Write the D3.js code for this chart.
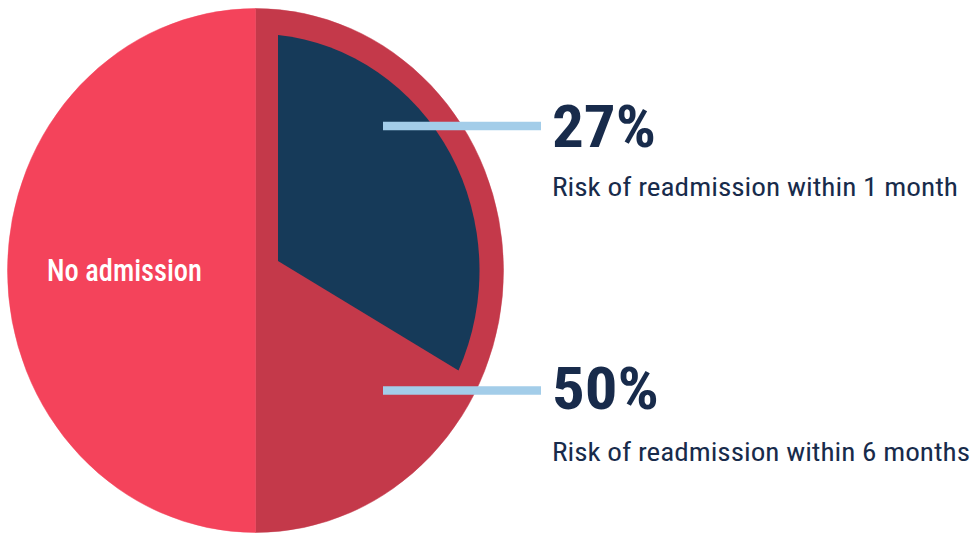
<!DOCTYPE html>
<html>
<head>
<meta charset="utf-8">
<script src="https://cdn.jsdelivr.net/npm/d3@7"></script>
<style>
  html, body { margin: 0; padding: 0; background: #ffffff; }
  svg { display: block; }
  text { font-family: "Roboto Condensed", "Roboto", "Liberation Sans Narrow", sans-serif; }
</style>
</head>
<body>
<svg id="chart" width="975" height="537"></svg>
<script>
// ---- data ----
const sliceNames  = ["Readmission within 6 months", "No admission"];
const sliceValues = [50, 50];                 // outer pie, percent of whole
const innerSliceName  = "Readmission within 1 month";
const innerSliceValue = 33.3;                 // angular share of the dark wedge (percent of whole, estimated)
const calloutValues = ["27%", "50%"];
const calloutTexts  = ["Risk of readmission within 1 month", "Risk of readmission within 6 months"];

// ---- layout ----
const svg = d3.select("#chart");
const cx = 255.5, cy = 270.5, R = 248, ryScale = 262 / 248;
const innerR = 224, pad1 = 22.5, pad2 = 19;
const colors = { "Readmission within 6 months": "#C4394A", "No admission": "#F4435B" };
const navy = "#163A59", textNavy = "#182B4B", connector = "#A3CDE9";

const g = svg.append("g").attr("transform", `translate(${cx},${cy}) scale(1,${ryScale})`);

const pie = d3.pie().sort(null).value(d => d.value);
const pieData = pie(sliceNames.map((n, i) => ({ name: n, value: sliceValues[i] })));
const arc = d3.arc().innerRadius(0).outerRadius(R);

g.selectAll("path.slice").data(pieData).join("path")
  .attr("class", "slice")
  .attr("d", arc)
  .attr("fill", d => colors[d.data.name])
  .attr("stroke", d => colors[d.data.name])
  .attr("stroke-width", 0.5);

// inner dark wedge: edges offset parallel, outer arc concentric with the pie
const angleScale = d3.scaleLinear().domain([0, 100]).range([0, 2 * Math.PI]);
const a0 = angleScale(0), a1 = angleScale(innerSliceValue);
function wedgePath(a0, a1, r, d1, d2) {
  const n0 = [Math.cos(a0), Math.sin(a0)];
  const n1 = [-Math.cos(a1), -Math.sin(a1)];
  const det = n0[0] * n1[1] - n0[1] * n1[0];
  const px = (d1 * n1[1] - n0[1] * d2) / det;
  const py = (n0[0] * d2 - d1 * n1[0]) / det;
  const s0 = a0 + Math.asin(d1 / r), s1 = a1 - Math.asin(d2 / r);
  const p = d3.path();
  p.moveTo(px, py);
  p.lineTo(r * Math.sin(s0), -r * Math.cos(s0));
  p.arc(0, 0, r, s0 - Math.PI / 2, s1 - Math.PI / 2, false);
  p.closePath();
  return p.toString();
}
g.append("path").attr("d", wedgePath(a0, a1, innerR, pad1, pad2)).attr("fill", navy);

// slice label
const labelArc = d3.arc().innerRadius(262).outerRadius(262);
const noAdm = pieData.find(d => d.data.name === "No admission");
const c = labelArc.centroid(noAdm);
svg.append("text")
  .attr("x", cx + c[0] / 2).attr("y", cy + 10)
  .attr("text-anchor", "middle")
  .attr("fill", "#ffffff").attr("font-size", 31).attr("font-weight", 500)
  .attr("textLength", 155).attr("lengthAdjust", "spacingAndGlyphs")
  .text("No admission");

// callouts
const callY = [126, 390.5];
const bigBase = [147, 408.5];
const subBase = [196, 461];
const bigW = [104, 107];
const subW = [406, 418];
calloutValues.forEach((v, i) => {
  svg.append("line")
    .attr("x1", 383).attr("x2", 541).attr("y1", callY[i]).attr("y2", callY[i])
    .attr("stroke", connector).attr("stroke-width", 8.5);
  svg.append("text")
    .attr("x", 552).attr("y", bigBase[i])
    .attr("fill", textNavy).attr("font-size", 60).attr("font-weight", 700)
    .attr("textLength", bigW[i]).attr("lengthAdjust", "spacingAndGlyphs")
    .text(v);
  svg.append("text")
    .attr("x", 552).attr("y", subBase[i])
    .attr("fill", textNavy).attr("font-size", 26).attr("font-weight", 400)
    .attr("textLength", subW[i]).attr("lengthAdjust", "spacingAndGlyphs")
    .text(calloutTexts[i]);
});
</script>
</body>
</html>
